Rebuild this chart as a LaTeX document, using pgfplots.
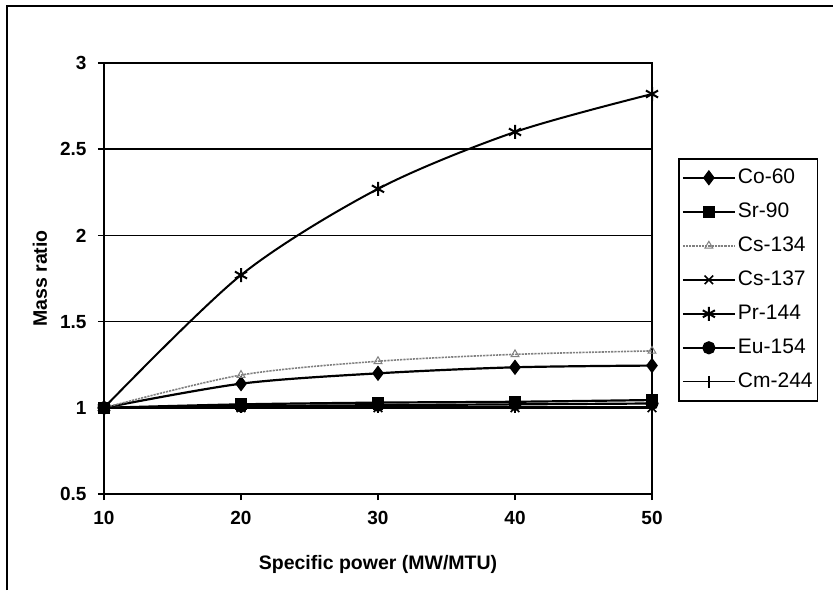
\documentclass[border=0pt]{standalone}
\usepackage{pgfplots}
\pgfplotsset{compat=1.18}
\usepackage{fontspec}
\setmainfont{Liberation Sans}
\begin{document}
\begin{tikzpicture}
\useasboundingbox (0pt,0pt) rectangle (833pt,590pt);
% outer chart frame (only left and top edges visible)
\draw[line width=1.6pt] (7pt,0pt) -- (7pt,584pt) -- (833pt,584pt);
\begin{axis}[
  at={(104pt,96pt)}, anchor=south west,
  scale only axis, width=548pt, height=431pt,
  xmin=10, xmax=50, ymin=0.5, ymax=3,
  xtick={10,20,30,40,50}, ytick={0.5,1,1.5,2,2.5,3},
  ymajorgrids, major grid style={black, line width=1.4pt},
  axis line style={line width=1.8pt},
  tick align=outside, major tick length=6pt,
  tick style={black, line width=1.4pt},
  xtick pos=bottom, ytick pos=left,
  /pgf/number format/assume math mode=true,
  ticklabel style={font=\bfseries\fontsize{19}{21}\selectfont},
  xticklabel style={yshift=-8pt},
  yticklabel style={xshift=-8pt},
  xlabel={Specific power (MW/MTU)},
  ylabel={Mass ratio},
  label style={font=\bfseries\fontsize{19.5}{21}\selectfont},
  xlabel style={at={(axis description cs:0.5,-0.163)}, anchor=center},
  ylabel style={at={(axis description cs:-0.117,0.5)}, anchor=center},
  legend cell align=left,
  legend style={at={(1.0474,0.7796)}, anchor=north west, draw=black,
    line width=1.6pt, font=\fontsize{21}{23}\selectfont,
    row sep=12pt, inner xsep=3pt, inner ysep=8pt,
    nodes={inner sep=2pt, text height=15pt, text depth=3pt}},
  legend image code/.code={\draw[mark repeat=2,mark phase=2,#1]
    plot coordinates {(0pt,0pt) (26pt,0pt) (52pt,0pt)};},
  every axis plot/.append style={smooth, black, line width=2.2pt},
]
\addplot[mark=diamond*, mark size=6pt, mark options={solid}] coordinates {(10,1) (20,1.14) (30,1.20) (40,1.235) (50,1.245)};
\addlegendentry{Co-60}
\addplot[mark=square*, mark size=5pt, mark options={solid}] coordinates {(10,1) (20,1.02) (30,1.03) (40,1.035) (50,1.045)};
\addlegendentry{Sr-90}
\addplot[gray, densely dotted, line width=1.6pt, mark=triangle, mark size=4.5pt, mark options={solid, gray, line width=1pt}] coordinates {(10,1) (20,1.19) (30,1.27) (40,1.31) (50,1.33)};
\addlegendentry{Cs-134}
\addplot[mark=x, mark size=6pt, line width=1.6pt, mark options={solid}] coordinates {(10,1) (20,1.0) (30,1.0) (40,1.0) (50,1.0)};
\addlegendentry{Cs-137}
\addplot[mark=asterisk, mark size=7pt, line width=2pt, mark options={solid}] coordinates {(10,1) (20,1.77) (30,2.27) (40,2.60) (50,2.82)};
\addlegendentry{Pr-144}
\addplot[mark=*, mark size=5.5pt, mark options={solid}] coordinates {(10,1) (20,1.01) (30,1.015) (40,1.02) (50,1.025)};
\addlegendentry{Eu-154}
\addplot[mark=|, mark size=6pt, line width=1.4pt, mark options={solid}] coordinates {(10,1) (20,1.005) (30,1.005) (40,1.005) (50,1.005)};
\addlegendentry{Cm-244}
\end{axis}
\end{tikzpicture}
\end{document}
